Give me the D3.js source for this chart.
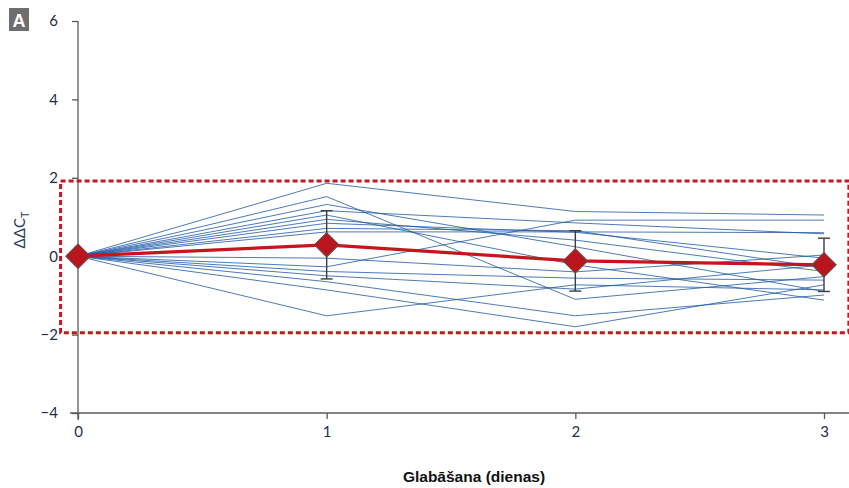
<!DOCTYPE html>
<html>
<head>
<meta charset="utf-8">
<script src="https://cdn.jsdelivr.net/npm/d3@7"></script>
<style>
  html, body { margin: 0; padding: 0; background: #fff; }
  svg { display: block; }
</style>
</head>
<body>
<svg id="chart" width="849" height="488"></svg>
<script>
// Storage days on the x axis
const days = [0, 1, 2, 3];
const xTickLabels = ["0", "1", "2", "3"];
const yTicks = [-4, -2, 0, 2, 4, 6];

// Individual assay ΔΔCT traces (one row per assay)
const traceValues = [
  [0, 1.86, 1.14, 1.05],
  [0, 1.52, -1.10, -0.52],
  [0, 1.32, 0.24, -0.90],
  [0, 1.16, 0.85, 0.57],
  [0, 1.05, -0.22, -1.12],
  [0, 0.94, 0.41, -0.39],
  [0, 0.84, 0.61, -0.05],
  [0, 0.71, 0.65, -0.30],
  [0, 0.62, 0.62, 0.60],
  [0, -0.05, -0.40, 0.03],
  [0, -0.27, 0.92, 0.92],
  [0, -0.39, -0.56, -0.61],
  [0, -0.50, -0.84, -0.22],
  [0, -0.65, -1.52, -0.99],
  [0, -0.86, -1.80, -0.73],
  [0, -1.52, -0.73, -0.86]
];

// Mean ΔΔCT and its spread
const meanValues = [0, 0.29, -0.12, -0.22];
const errorValues = [0, 0.87, 0.77, 0.68];

// Acceptance band (ΔΔCT range) and x extent of the band
const bandY = [-1.95, 1.92];
const bandX = [-0.07, 3.1];

const svg = d3.select("#chart");

const x = d3.scaleLinear().domain([0, 3]).range([78, 824]);
const y = d3.scaleLinear().domain([-4, 6]).range([413, 21]);

const axisColor = "#5a5a5a";
const labelColor = "#1f2d4f";
const tickFont = "Lato, 'Open Sans', sans-serif";

// Y axis
const yAxis = d3.axisLeft(y).tickValues(yTicks).tickSize(6).tickSizeOuter(0)
  .tickFormat(d => d < 0 ? "\u2212" + Math.abs(d) : String(d));
const yg = svg.append("g").attr("transform", `translate(${x(0)},0)`).call(yAxis);
yg.select(".domain").attr("stroke", axisColor).attr("stroke-width", 1.3)
  .attr("d", `M0,${y(6)}V${y(-4) + 7}`);
yg.selectAll(".tick line").attr("stroke", axisColor).attr("stroke-width", 1.3);
yg.selectAll(".tick text").attr("x", -20).attr("fill", labelColor)
  .style("font-family", tickFont).style("font-size", "15px");

// X axis
const xAxis = d3.axisBottom(x).tickValues(days).tickSize(6).tickSizeOuter(0)
  .tickFormat((d, i) => xTickLabels[i]);
const xg = svg.append("g").attr("transform", `translate(0,${y(-4)})`).call(xAxis);
xg.select(".domain").attr("stroke", axisColor).attr("stroke-width", 1.3)
  .attr("d", `M${x(0) - 8},0H849`);
xg.selectAll(".tick line").attr("stroke", axisColor).attr("stroke-width", 1.3);
xg.selectAll(".tick text").attr("y", 13).attr("fill", labelColor)
  .style("font-family", tickFont).style("font-size", "15px");

// Individual traces
const line = d3.line().x((d, i) => x(days[i])).y(d => y(d));
svg.append("g").selectAll("path").data(traceValues).join("path")
  .attr("d", line)
  .attr("fill", "none")
  .attr("stroke", "#1f5aa6")
  .attr("stroke-opacity", 0.8)
  .attr("stroke-width", 1);

// Acceptance band
svg.append("rect")
  .attr("x", x(bandX[0])).attr("y", y(bandY[1]))
  .attr("width", x(bandX[1]) - x(bandX[0]))
  .attr("height", y(bandY[0]) - y(bandY[1]))
  .attr("fill", "none")
  .attr("stroke", "#c4161c")
  .attr("stroke-width", 3)
  .attr("stroke-dasharray", "5,3");

// Error bars
const eg = svg.append("g").attr("stroke", "#3d3d3d").attr("stroke-width", 1.4);
days.forEach((d, i) => {
  if (errorValues[i] <= 0) return;
  const cx = x(d), top = y(meanValues[i] + errorValues[i]), bot = y(meanValues[i] - errorValues[i]);
  eg.append("line").attr("x1", cx).attr("x2", cx).attr("y1", top).attr("y2", bot);
  eg.append("line").attr("x1", cx - 6).attr("x2", cx + 6).attr("y1", top).attr("y2", top);
  eg.append("line").attr("x1", cx - 6).attr("x2", cx + 6).attr("y1", bot).attr("y2", bot);
});

// Mean line
svg.append("path").datum(meanValues)
  .attr("d", line)
  .attr("fill", "none")
  .attr("stroke", "#c4161c")
  .attr("stroke-width", 3.2);

// Mean markers
const diamond = d3.symbol().type(d3.symbolSquare).size(300);
svg.append("g").selectAll("path").data(meanValues).join("path")
  .attr("d", diamond)
  .attr("transform", (d, i) => `translate(${x(days[i])},${y(d)}) rotate(45)`)
  .attr("fill", "#b8151d")
  .attr("stroke", "#6a4a4a")
  .attr("stroke-width", 1);

// Y axis title: ΔΔC with subscript T
const yt = svg.append("text")
  .attr("transform", `translate(25,230) rotate(-90)`)
  .attr("text-anchor", "middle")
  .attr("fill", "#2c3e66")
  .style("font-family", tickFont).style("font-size", "15px");
yt.append("tspan").text("\u0394\u0394C");
yt.append("tspan").attr("dy", 4).style("font-size", "11px").text("T");

// X axis title
svg.append("text")
  .attr("x", 474).attr("y", 482)
  .attr("text-anchor", "middle")
  .attr("fill", "#111")
  .style("font-family", "'Liberation Sans', Arial, sans-serif")
  .style("font-size", "15.5px").style("font-weight", "bold")
  .text("Glabāšana (dienas)");

// Panel letter
svg.append("rect").attr("x", 9).attr("y", 8).attr("width", 20).attr("height", 23).attr("fill", "#6e6e6e");
svg.append("text").attr("x", 19).attr("y", 27).attr("text-anchor", "middle")
  .attr("fill", "#fff")
  .style("font-family", "'Liberation Sans', Arial, sans-serif")
  .style("font-size", "18px").style("font-weight", "bold")
  .text("A");
</script>
</body>
</html>
